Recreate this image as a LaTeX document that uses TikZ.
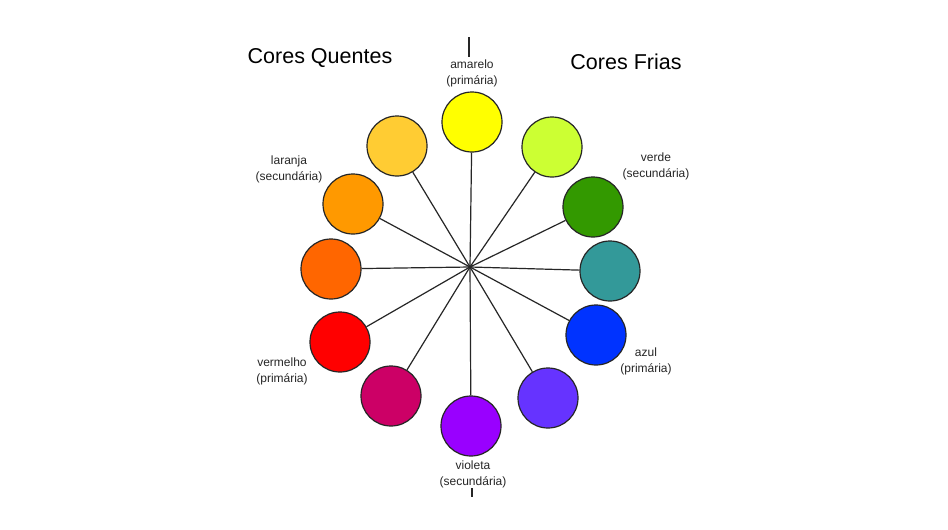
\documentclass[tikz,border=0pt]{standalone}
\usepackage{fontspec}
\setmainfont{Liberation Sans}
\begin{document}
\begin{tikzpicture}[x=1pt,y=-1pt,
  swatch/.style={circle,draw=black!85,line width=1.2pt,minimum size=60pt,inner sep=0pt},
  spoke/.style={draw=black!85,line width=1.2pt},
  lbl/.style={font=\fontsize{12}{16}\selectfont,align=center,inner sep=0pt,text=black!85},
  ttl/.style={font=\fontsize{21.5}{24}\selectfont,inner sep=0pt,text=black}]
\useasboundingbox[fill=white] (0,0) rectangle (948,530);
\definecolor{cY}{HTML}{FFFF00}
\definecolor{cYG}{HTML}{CCFF33}
\definecolor{cG}{HTML}{339900}
\definecolor{cT}{HTML}{339999}
\definecolor{cB}{HTML}{0033FF}
\definecolor{cBV}{HTML}{6633FF}
\definecolor{cV}{HTML}{9900FF}
\definecolor{cM}{HTML}{CC0066}
\definecolor{cR}{HTML}{FF0000}
\definecolor{cRO}{HTML}{FF6600}
\definecolor{cO}{HTML}{FF9900}
\definecolor{cYO}{HTML}{FFCC33}
\coordinate (c) at (470,267);
\node[swatch,fill=cY]  (y)  at (472,122) {};
\node[swatch,fill=cYG] (yg) at (552,147) {};
\node[swatch,fill=cG]  (g)  at (593,207) {};
\node[swatch,fill=cT]  (t)  at (610,271) {};
\node[swatch,fill=cB]  (b)  at (596,335) {};
\node[swatch,fill=cBV] (bv) at (548,398) {};
\node[swatch,fill=cV]  (v)  at (471,426) {};
\node[swatch,fill=cM]  (m)  at (391,396) {};
\node[swatch,fill=cR]  (r)  at (340,342) {};
\node[swatch,fill=cRO] (ro) at (331,269) {};
\node[swatch,fill=cO]  (o)  at (353,204) {};
\node[swatch,fill=cYO] (yo) at (397,146) {};
\foreach \n in {y,yg,g,t,b,bv,v,m,r,ro,o,yo} \draw[spoke] (c) -- (\n);
\node[ttl] (tq) at (320,58) {Cores Quentes};
\node[ttl] (tf) at (626,62) {Cores Frias};
\node[lbl] (ly) at (472,73) {amarelo\\(primária)};
\node[lbl] (lo) at (289,169) {laranja\\(secundária)};
\node[lbl] (lg) at (656,166) {verde\\(secundária)};
\node[lbl] (lb) at (646,361) {azul\\(primária)};
\node[lbl] (lr) at (282,371) {vermelho\\(primária)};
\node[lbl] (lv) at (473,474) {violeta\\(secundária)};
\coordinate (t1) at (469,37);
\coordinate (t2) at (469,57);
\coordinate (b1) at (472,488);
\coordinate (b2) at (472,497);
\draw[spoke] (t1) -- (t2);
\draw[spoke] (b1) -- (b2);
\end{tikzpicture}
\end{document}
